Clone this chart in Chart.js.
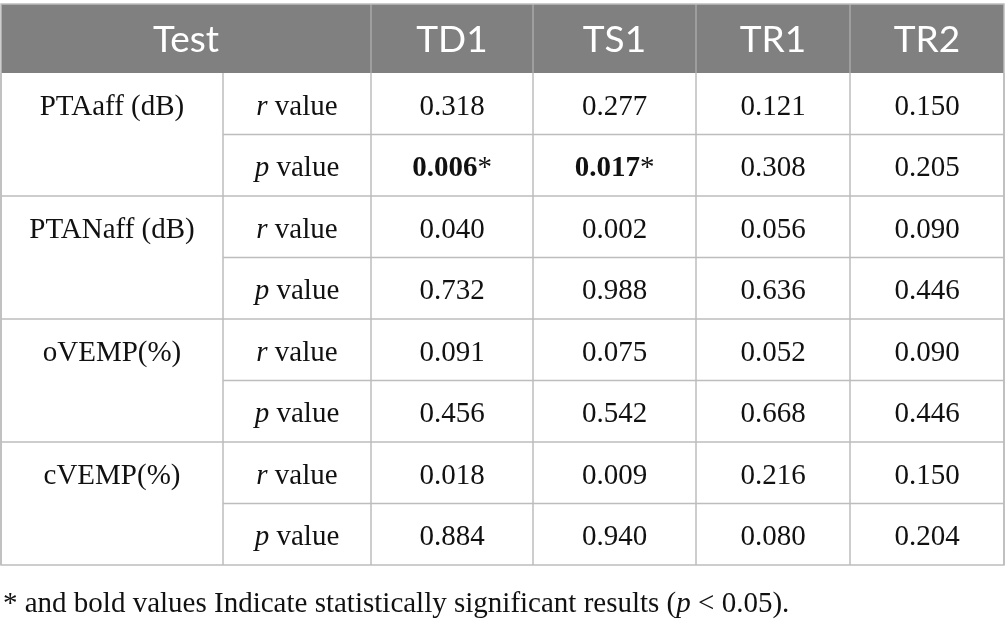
<!DOCTYPE html>
<html>
<head>
<meta charset="utf-8">
<script src="https://cdn.jsdelivr.net/npm/chart.js@4.4.1/dist/chart.umd.min.js"></script>
<style>
  html, body { margin: 0; padding: 0; background: #ffffff; }
  #wrap { width: 1005px; height: 619px; }
</style>
</head>
<body>
<div id="wrap"><canvas id="table" width="1005" height="619"></canvas></div>
<script>
// table content
const headers = ["TD1", "TS1", "TR1", "TR2"];
const measures = ["PTAaff (dB)", "PTANaff (dB)", "oVEMP(%)", "cVEMP(%)"];
const statLabels = ["r", "p"];

const rPTAaff = [0.318, 0.277, 0.121, 0.150];
const pPTAaff = [0.006, 0.017, 0.308, 0.205];
const rPTANaff = [0.040, 0.002, 0.056, 0.090];
const pPTANaff = [0.732, 0.988, 0.636, 0.446];
const rOVEMP = [0.091, 0.075, 0.052, 0.090];
const pOVEMP = [0.456, 0.542, 0.668, 0.446];
const rCVEMP = [0.018, 0.009, 0.216, 0.150];
const pCVEMP = [0.884, 0.940, 0.080, 0.204];

const rRows = [rPTAaff, rPTANaff, rOVEMP, rCVEMP];
const pRows = [pPTAaff, pPTANaff, pOVEMP, pCVEMP];
const alpha = 0.05;

// layout (scale units = pixels of the 1005x619 canvas)
const colEdges = [1, 223, 371, 533, 696, 850, 1004];
const tableTop = 4;
const headerBottom = 73;
const rowHeight = 61.5;

const serif = '"Liberation Serif", "DejaVu Serif", serif';
const sans = 'Lato, "Open Sans", sans-serif';

function rowEdge(i) {
    return headerBottom + i * rowHeight;
}
function colMid(i) {
    return (colEdges[i] + colEdges[i + 1]) / 2;
}

// one point per cell, the plugin writes the text at the point
const cells = [];
cells.push({ x: (colEdges[0] + colEdges[2]) / 2, y: (tableTop + headerBottom) / 2, header: true, runs: [{ t: "Test" }] });
headers.forEach((h, j) => {
    cells.push({ x: colMid(j + 2), y: (tableTop + headerBottom) / 2, header: true, runs: [{ t: h }] });
});
measures.forEach((m, i) => {
    const rRow = 2 * i;
    const pRow = 2 * i + 1;
    cells.push({ x: colMid(0), y: rowEdge(rRow) + rowHeight / 2, runs: [{ t: m }] });
    cells.push({ x: colMid(1), y: rowEdge(rRow) + rowHeight / 2, runs: [{ t: statLabels[0], i: true }, { t: " value" }] });
    cells.push({ x: colMid(1), y: rowEdge(pRow) + rowHeight / 2, runs: [{ t: statLabels[1], i: true }, { t: " value" }] });
    rRows[i].forEach((v, j) => {
        cells.push({ x: colMid(j + 2), y: rowEdge(rRow) + rowHeight / 2, runs: [{ t: v.toFixed(3) }] });
    });
    pRows[i].forEach((v, j) => {
        const sig = v < alpha;
        const runs = sig ? [{ t: v.toFixed(3), b: true }, { t: "*" }] : [{ t: v.toFixed(3) }];
        cells.push({ x: colMid(j + 2), y: rowEdge(pRow) + rowHeight / 2, runs: runs });
    });
});

function runFont(r, header) {
    if (header) return "37px " + sans;
    return (r.i ? "italic " : "") + (r.b ? "bold " : "") + "29px " + serif;
}

function drawRuns(ctx, runs, x, y, header, align) {
    let total = 0;
    runs.forEach((r) => {
        ctx.font = runFont(r, header);
        r.w = ctx.measureText(r.t).width;
        total += r.w;
    });
    let cx = align === "left" ? x : x - total / 2;
    runs.forEach((r) => {
        ctx.font = runFont(r, header);
        ctx.fillText(r.t, cx, y);
        cx += r.w;
    });
}

const tablePlugin = {
    id: "tablePlugin",
    beforeDatasetsDraw(chart) {
        const ctx = chart.ctx;
        const sx = chart.scales.x;
        const sy = chart.scales.y;
        const X = (v) => sx.getPixelForValue(v);
        const Y = (v) => sy.getPixelForValue(v);
        const nRows = measures.length * 2;
        const left = X(colEdges[0]);
        const right = X(colEdges[colEdges.length - 1]);
        const bottom = Y(rowEdge(nRows));

        ctx.save();
        // header band
        ctx.fillStyle = "#808080";
        ctx.fillRect(left, Y(tableTop), right - left, Y(headerBottom) - Y(tableTop));

        ctx.lineWidth = 1.5;
        // header separators
        ctx.strokeStyle = "#a9a9a9";
        for (let c = 2; c < colEdges.length - 1; c++) {
            ctx.beginPath();
            ctx.moveTo(X(colEdges[c]), Y(tableTop));
            ctx.lineTo(X(colEdges[c]), Y(headerBottom));
            ctx.stroke();
        }

        ctx.strokeStyle = "#bdbdbd";
        // body verticals
        for (let c = 0; c < colEdges.length; c++) {
            ctx.beginPath();
            ctx.moveTo(X(colEdges[c]), Y(headerBottom));
            ctx.lineTo(X(colEdges[c]), bottom);
            ctx.stroke();
        }
        // horizontals
        for (let r = 1; r < nRows; r++) {
            const x0 = r % 2 === 1 ? X(colEdges[1]) : left;
            ctx.beginPath();
            ctx.moveTo(x0, Y(rowEdge(r)));
            ctx.lineTo(right, Y(rowEdge(r)));
            ctx.stroke();
        }
        // outer frame
        ctx.strokeRect(left, Y(tableTop), right - left, bottom - Y(tableTop));
        ctx.restore();
    },
    afterDatasetsDraw(chart) {
        const ctx = chart.ctx;
        const meta = chart.getDatasetMeta(0);
        const data = chart.data.datasets[0].data;
        ctx.save();
        ctx.textBaseline = "middle";
        meta.data.forEach((pt, k) => {
            const cell = data[k];
            ctx.fillStyle = cell.header ? "#ffffff" : "#111111";
            drawRuns(ctx, cell.runs, pt.x, pt.y + (cell.header ? 2 : 3.5), cell.header, "center");
        });
        // footnote
        ctx.fillStyle = "#111111";
        const fy = chart.scales.y.getPixelForValue(604);
        drawRuns(ctx, [
            { t: "* and bold values Indicate statistically significant results (" },
            { t: "p", i: true },
            { t: " < 0.05)." }
        ], chart.scales.x.getPixelForValue(3), fy, false, "left");
        ctx.restore();
    }
};

new Chart(document.getElementById("table"), {
    type: "scatter",
    data: {
        datasets: [{ data: cells, pointRadius: 0, pointHoverRadius: 0 }]
    },
    options: {
        responsive: false,
        animation: false,
        events: [],
        layout: { padding: 0 },
        plugins: {
            legend: { display: false },
            tooltip: { enabled: false }
        },
        scales: {
            x: { type: "linear", min: 0, max: 1005, display: false },
            y: { type: "linear", min: 0, max: 619, reverse: true, display: false }
        }
    },
    plugins: [tablePlugin]
});
</script>
</body>
</html>
